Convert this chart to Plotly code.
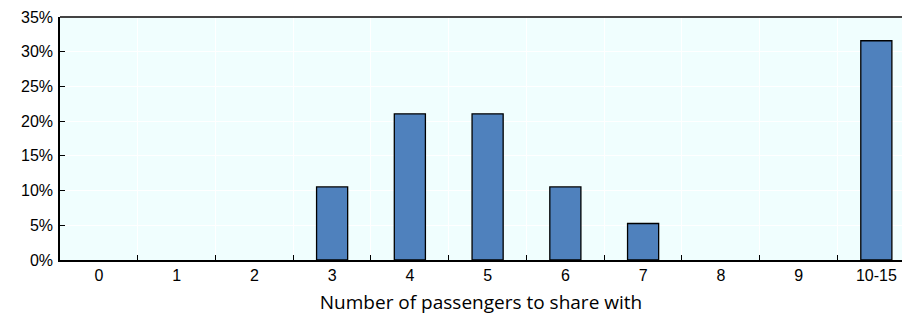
import plotly.graph_objects as go

categories = ["0", "1", "2", "3", "4", "5", "6", "7", "8", "9", "10-15"]
shares = [0, 0, 0, 10.53, 21.05, 21.05, 10.53, 5.26, 0, 0, 31.58]
y_ticks = [0, 5, 10, 15, 20, 25, 30, 35]
y_tick_labels = [f"{v}%" for v in y_ticks]

line_widths = [1.3 if v > 0 else 0 for v in shares]

fig = go.Figure()
fig.add_trace(go.Bar(
    x=categories, y=shares,
    marker=dict(color="#4f81bd", line=dict(color="#000000", width=line_widths)),
    width=0.4,
))

fig.update_layout(
    width=902, height=322,
    margin=dict(l=60, r=0, t=17, b=62),
    paper_bgcolor="white",
    plot_bgcolor="#f0fefe",
    showlegend=False,
    font=dict(family="Liberation Sans, Arial", size=16, color="#000000"),
    xaxis=dict(
        type="category",
        range=[-0.5, 10.33],
        automargin=False,
        tickson="boundaries",
        ticks="inside", ticklen=5, tickcolor="#000", tickwidth=1.3,
        showgrid=True, gridcolor="white", gridwidth=1,
        showline=True, linecolor="#000", linewidth=1.5,
        tickfont=dict(size=16),
        title=dict(text="Number of passengers to share with",
                   font=dict(family="Open Sans, Noto Sans", size=19), standoff=13),
    ),
    yaxis=dict(
        range=[0, 35],
        automargin=False,
        tickvals=y_ticks, ticktext=y_tick_labels,
        ticks="inside", ticklen=5, tickcolor="#000", tickwidth=1.3,
        showgrid=True, gridcolor="white", gridwidth=1,
        showline=True, linecolor="#000", linewidth=1.5,
        zeroline=False,
        tickfont=dict(size=16),
        ticklabelstandoff=2,
    ),
)
fig.add_shape(type="line", xref="paper", yref="paper", x0=0, x1=1, y0=1, y1=1,
              line=dict(color="#444", width=2))

fig.write_html("out.html", config={"displayModeBar": False},
               post_script="document.body.style.margin='0';document.body.style.overflow='hidden';")
